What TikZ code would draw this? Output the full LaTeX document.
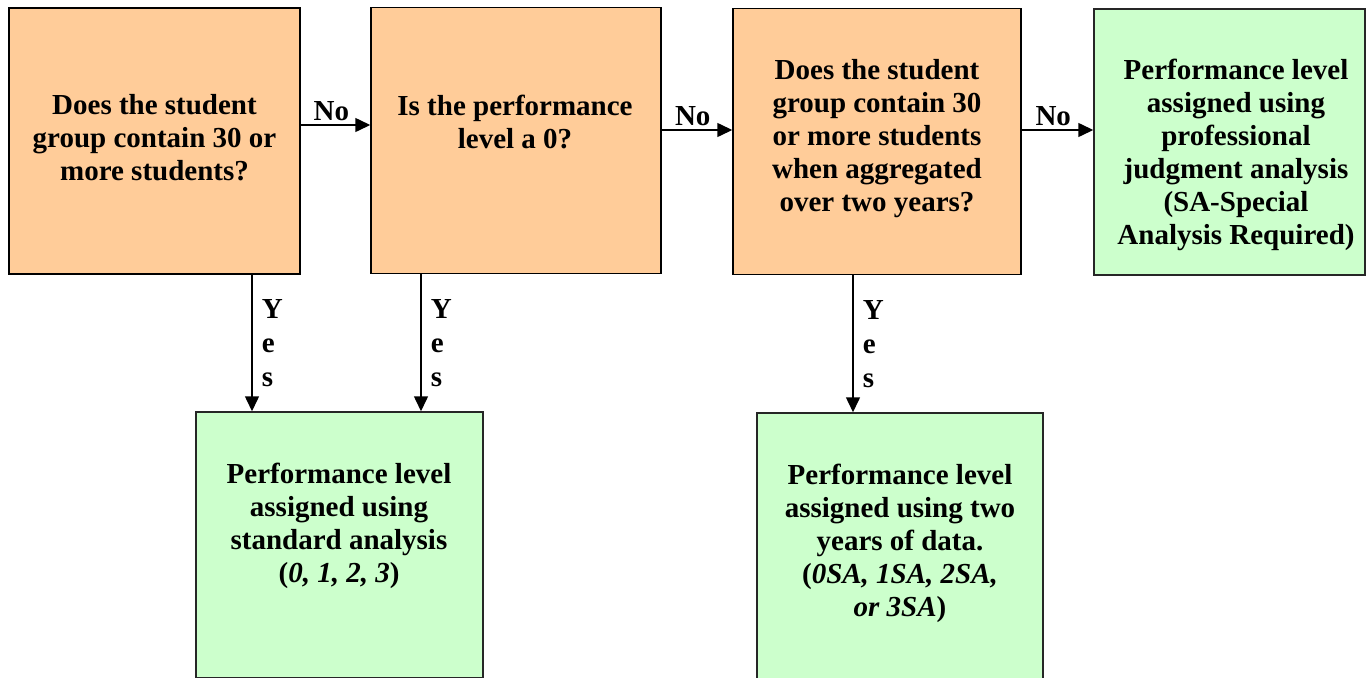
\documentclass[tikz,border=0pt]{standalone}
\usepackage{fontspec}
\setmainfont{Liberation Serif}
\usetikzlibrary{arrows.meta}
\definecolor{qorange}{HTML}{FFCC99}
\definecolor{agreen}{HTML}{CCFFCC}

\begin{document}
\begin{tikzpicture}[x=1pt, y=-1pt, line width=1.5pt, >={Triangle[length=15pt, width=14pt]},
		question/.style={draw, fill=qorange, inner sep=0pt, minimum height=266pt},
		result/.style={draw=black!85, fill=agreen, inner sep=0pt, minimum height=266pt},
		txt/.style={align=center, inner sep=0pt, font=\bfseries\fontsize{29}{33}\selectfont},
		lbl/.style={inner sep=0pt, font=\bfseries\fontsize{29}{34}\selectfont}]
		\useasboundingbox (0, 0) rectangle (1367, 677);
		
		% boxes
		\node[question, minimum width=291pt] (q1) at (154.5, 141) {};
		\node[question, minimum width=290pt] (q2) at (516, 140.5) {};
		\node[question, minimum width=288pt] (q3) at (877, 141.5) {};
		\node[result, minimum width=271pt] (r3) at (1229.5, 142) {};
		\node[result, minimum width=287pt] (r1) at (339.5, 545) {};
		\node[result, minimum width=286pt] (r2) at (900, 546) {};
		
		% texts
		\node[txt] (q1t) at (154.5, 138) {Does the student\\group contain 30 or\\more students?};
		\node[txt] (q2t) at (515, 121.5) {Is the performance\\level a 0?};
		\node[txt] (q3t) at (877, 138.5) {Does the student\\group contain 30\\or more students\\when aggregated\\over two years?};
		\node[txt] (r3t) at (1236, 154.5) {Performance level\\assigned using\\professional\\judgment analysis\\(SA-Special\\Analysis Required)};
		\node[txt] (r1t) at (339, 525.5) {Performance level\\assigned using\\standard analysis\\(\textit{0, 1, 2, 3})};
		\node[txt] (r2t) at (900, 543.5) {Performance level\\assigned using two\\years of data.\\(\textit{0SA, 1SA, 2SA,}\\\textit{or 3SA})};
		
		% connectors
		\coordinate (n1) at (0, 125);
		\coordinate (n2) at (0, 130);
		\coordinate (y1) at (252, 0);
		\coordinate (y2) at (421, 0);
		\coordinate (y3) at (853, 0);
		
		\draw[->] (q1.east |- n1) -- node[lbl, above=3pt, pos=0.44] (no1) {No} (q2.west |- n1);
		\draw[->] (q2.east |- n2) -- node[lbl, above=3pt, pos=0.44] (no2) {No} (q3.west |- n2);
		\draw[->] (q3.east |- n2) -- node[lbl, above=3pt, pos=0.44] (no3) {No} (r3.west |- n2);
		
		\draw[->] (q1.south -| y1) -- node[lbl, right=9pt, align=left] (yes1) {Y\\e\\s} (r1.north -| y1);
		\draw[->] (q2.south -| y2) -- node[lbl, right=9pt, align=left] (yes2) {Y\\e\\s} (r1.north -| y2);
		\draw[->] (q3.south -| y3) -- node[lbl, right=9pt, align=left] (yes3) {Y\\e\\s} (r2.north -| y3);
	\end{tikzpicture}
\end{document}
